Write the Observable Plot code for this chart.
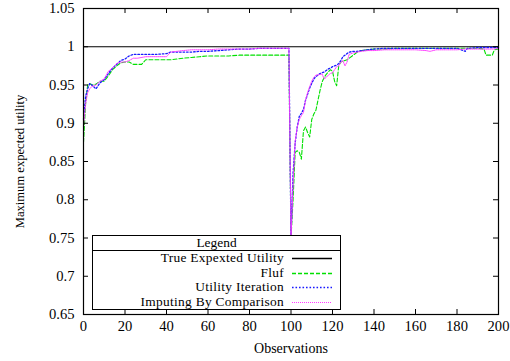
<!DOCTYPE html>
<html>
<head>
<meta charset="utf-8">
<script src="https://cdn.jsdelivr.net/npm/d3@7"></script>
<script src="https://cdn.jsdelivr.net/npm/@observablehq/plot@0.6"></script>
<style>
  html, body { margin: 0; padding: 0; background: #fff; }
  #wrap { position: relative; width: 510px; height: 361px; font-family: "Liberation Serif", "Times New Roman", serif; }
  #wrap svg text { font-family: "Liberation Serif", "Times New Roman", serif !important; font-size: 14px !important; fill: #000; }
  #wrap svg g[aria-label$="tick label"] text { font-size: 14.6px !important; }
  #wrap svg g[aria-label="y-axis label"] text { font-size: 12.6px !important; }
  #legend { position: absolute; left: 92px; top: 235px; width: 247px; height: 73px; border: 1px solid #000; background: #fff; box-sizing: content-box; font-family: "Liberation Serif", "Times New Roman", serif; font-size: 13.4px; color: #000; }
  #legend .title { height: 14px; line-height: 14px; text-align: center; border-bottom: 1px solid #000; }
  #legend .row { position: relative; height: 14.6px; line-height: 14.6px; }
  #legend .row span { position: absolute; right: 56px; top: 0; white-space: nowrap; letter-spacing: 0.3px; }
  #legend .row svg { position: absolute; left: 199px; top: 0; }
</style>
</head>
<body>
<div id="wrap"></div>
<script>
const obs = [0,1,2,3,4,6,8,10,12,14,16,18,20,22,24,26,28,30,35,40,42,45,48,52,56,60,65,70,75,80,85,90,95,99,
  100,101,102,103,104,105,106,107,108,109,110,111,112,113,114,115,116,117,118,119,120,121,122,123,124,125,126,127,128,
  130,132,134,137,140,145,150,155,160,165,167,170,175,180,184,185,186,190,193,194,197,198,200];

const trueUtility = obs.map(() => 1);

const fluf = [0.875,0.925,0.950,0.952,0.950,0.951,0.955,0.955,0.962,0.970,0.975,0.979,0.980,0.980,0.977,0.977,0.977,0.983,0.983,0.983,0.983,0.984,0.985,0.986,0.987,0.988,0.988,0.988,0.989,0.989,0.989,0.989,0.989,0.989,
  0.75,0.80,0.862,0.864,0.862,0.853,0.890,0.895,0.888,0.882,0.905,0.912,0.917,0.930,0.943,0.954,0.960,0.964,0.967,0.970,0.968,0.955,0.949,0.975,0.980,0.981,0.982,0.983,0.985,
  0.989,0.993,0.995,0.996,0.997,0.997,0.998,0.998,0.998,0.998,0.998,0.998,0.998,0.998,0.998,0.998,0.998,0.998,0.997,0.989,0.989,0.996,0.997];

const utilityIteration = [0.905,0.935,0.945,0.952,0.950,0.945,0.953,0.957,0.965,0.972,0.977,0.982,0.984,0.988,0.990,0.990,0.990,0.990,0.990,0.991,0.993,0.993,0.993,0.993,0.994,0.994,0.995,0.996,0.997,0.997,0.998,0.998,0.998,0.998,
  0.75,0.835,0.874,0.895,0.909,0.913,0.918,0.930,0.938,0.946,0.952,0.958,0.961,0.963,0.965,0.966,0.967,0.969,0.971,0.972,0.974,0.975,0.976,0.978,0.982,0.987,0.989,0.991,0.993,
  0.994,0.994,0.995,0.996,0.997,0.998,0.998,0.998,0.998,0.998,0.998,0.998,0.998,0.998,0.994,0.998,0.998,0.999,0.999,0.999,0.999,0.999,0.999];

const imputing = [0.895,0.925,0.940,0.945,0.948,0.950,0.955,0.958,0.968,0.972,0.978,0.980,0.980,0.982,0.985,0.985,0.986,0.987,0.987,0.987,0.993,0.994,0.995,0.996,0.996,0.996,0.997,0.997,0.997,0.997,0.998,0.998,0.998,0.998,
  0.75,0.82,0.876,0.895,0.905,0.910,0.914,0.930,0.940,0.948,0.955,0.960,0.963,0.963,0.964,0.964,0.958,0.960,0.963,0.965,0.966,0.970,0.974,0.975,0.980,0.982,0.975,0.980,0.990,
  0.992,0.993,0.994,0.995,0.995,0.996,0.996,0.996,0.996,0.995,0.994,0.996,0.996,0.996,0.997,0.997,0.997,0.997,0.997,0.997,0.997,0.997,0.998];

const seriesNames = ["True Expexted Utility", "Fluf", "Utility Iteration", "Imputing By Comparison"];
const seriesValues = [trueUtility, fluf, utilityIteration, imputing];
const seriesColors = ["#000000", "#00e000", "#1a1aff", "#ff3cff"];
const seriesDash = ["none", "4,2", "1.6,1.9", "1,1"];
const seriesWidth = [1.1, 1.1, 1.3, 1];

const xTicks = d3.range(0, 201, 20);
const yTicks = [0.65,0.7,0.75,0.8,0.85,0.9,0.95,1,1.05];

const W = 510, H = 361;
const mL = 83, mR = 12, mT = 8, mB = 47;
const tickLen = 5;
const xDomain = [0, 200], yDomain = [0.65, 1.05];
const xUnitsPerPx = (xDomain[1] - xDomain[0]) / (W - mL - mR);
const yUnitsPerPx = (yDomain[1] - yDomain[0]) / (H - mT - mB);

const marks = [];
seriesValues.forEach((vals, i) => {
  const rows = obs.map((o, k) => ({x: o, y: vals[k]}));
  marks.push(Plot.line(rows, {x: "x", y: "y", stroke: seriesColors[i], strokeWidth: seriesWidth[i],
    strokeDasharray: seriesDash[i] === "none" ? undefined : seriesDash[i]}));
});
marks.push(Plot.ruleY(yTicks, {y: d => d, x1: xDomain[0], x2: xDomain[0] + tickLen * xUnitsPerPx, stroke: "#000", strokeWidth: 1}));
marks.push(Plot.ruleY(yTicks, {y: d => d, x1: xDomain[1] - tickLen * xUnitsPerPx, x2: xDomain[1], stroke: "#000", strokeWidth: 1}));
marks.push(Plot.ruleX(xTicks, {x: d => d, y1: yDomain[0], y2: yDomain[0] + tickLen * yUnitsPerPx, stroke: "#000", strokeWidth: 1}));
marks.push(Plot.ruleX(xTicks, {x: d => d, y1: yDomain[1] - tickLen * yUnitsPerPx, y2: yDomain[1], stroke: "#000", strokeWidth: 1}));
marks.push(Plot.frame({stroke: "#000", strokeWidth: 1.2}));
marks.push(Plot.axisX({ticks: xTicks, tickSize: 0, tickPadding: 6, label: "Observations", labelAnchor: "center", labelOffset: 38, labelArrow: "none"}));
marks.push(Plot.axisY({ticks: yTicks, tickSize: 0, tickPadding: 9, tickFormat: d => String(+d.toFixed(2)), label: "Maximum expected utility", labelAnchor: "center", labelOffset: 68, labelArrow: "none"}));

const chart = Plot.plot({
  width: W, height: H,
  marginLeft: mL, marginRight: mR, marginTop: mT, marginBottom: mB,
  style: {fontFamily: "'Liberation Serif', serif", fontSize: "14px", color: "#000", background: "#fff"},
  x: {domain: xDomain},
  y: {domain: yDomain},
  marks
});

const wrap = document.getElementById("wrap");
wrap.appendChild(chart);

const legend = document.createElement("div");
legend.id = "legend";
const title = document.createElement("div");
title.className = "title";
title.textContent = "Legend";
legend.appendChild(title);
seriesNames.forEach((name, i) => {
  const row = document.createElement("div");
  row.className = "row";
  const span = document.createElement("span");
  span.textContent = name;
  row.appendChild(span);
  const svg = d3.create("svg").attr("width", 42).attr("height", 14);
  svg.append("line").attr("x1", 0).attr("x2", 40).attr("y1", 7.5).attr("y2", 7.5)
    .attr("stroke", seriesColors[i]).attr("stroke-width", seriesWidth[i] + 0.2)
    .attr("stroke-dasharray", seriesDash[i] === "none" ? null : seriesDash[i]);
  row.appendChild(svg.node());
  legend.appendChild(row);
});
wrap.appendChild(legend);
</script>
</body>
</html>
